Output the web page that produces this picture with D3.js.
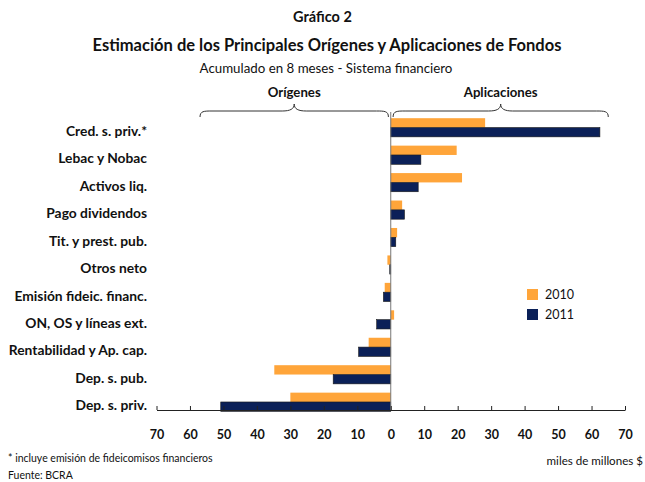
<!DOCTYPE html>
<html>
<head>
<meta charset="utf-8">
<script src="https://cdn.jsdelivr.net/npm/d3@7"></script>
<style>
  body { margin: 0; background: #fff; }
  svg text { font-family: Lato, "Open Sans", sans-serif; fill: #111; }
</style>
</head>
<body>
<svg id="mainsvg" width="645" height="482"></svg>
<script>
// data (miles de millones $)
const categories = ['Cred. s. priv.*', 'Lebac y Nobac', 'Activos liq.', 'Pago dividendos',
    'Tit. y prest. pub.', 'Otros neto', 'Emisión fideic. financ.', 'ON, OS y líneas ext.',
    'Rentabilidad y Ap. cap.', 'Dep. s. pub.', 'Dep. s. priv.'];
const series = ['2010', '2011'];
const values2010 = [28.2, 19.7, 21.3, 3.4, 1.9, -1.0, -1.8, 1.0, -6.6, -34.8, -30.0];
const values2011 = [62.5, 9.0, 8.2, 4.1, 1.5, -0.3, -2.2, -4.2, -9.6, -17.2, -50.8];
const xTicks = [-70, -60, -50, -40, -30, -20, -10, 0, 10, 20, 30, 40, 50, 60, 70];

const color = { '2010': '#ffa53a', '2011': '#0b2058' };

const svg = d3.select('#mainsvg');
const width = +svg.attr('width');

const xScale = d3.scaleLinear().domain([-70, 70]).range([156.5, 625]);
const yScale = d3.scaleBand().domain(categories)
    .range([113.8, 415.7]).paddingInner(0.32).paddingOuter(0.16);
const subScale = d3.scaleBand().domain(series).range([0, yScale.bandwidth()]);

const data = categories.map((c, i) => ({ cat: c, '2010': values2010[i], '2011': values2011[i] }));

// titles
svg.append('text').attr('x', width / 2).attr('y', 22).attr('text-anchor', 'middle')
    .attr('font-size', 14.5).attr('font-weight', 'bold').text('Gráfico 2');
svg.append('text').attr('x', 327).attr('y', 51).attr('text-anchor', 'middle')
    .attr('font-size', 16.5).attr('font-weight', 'bold')
    .text('Estimación de los Principales Orígenes y Aplicaciones de Fondos');
svg.append('text').attr('x', 326).attr('y', 73).attr('text-anchor', 'middle')
    .attr('font-size', 13.3).text('Acumulado en 8 meses - Sistema financiero');

// braces
const brace = (x0, x1, yb) => {
    const xm = (x0 + x1) / 2;
    return `M${x0},${yb + 6} C${x0},${yb} ${x0 + 4},${yb} ${x0 + 12},${yb}` +
        ` L${xm - 12},${yb} C${xm - 4},${yb} ${xm},${yb - 2} ${xm},${yb - 7}` +
        ` C${xm},${yb - 2} ${xm + 4},${yb} ${xm + 12},${yb}` +
        ` L${x1 - 12},${yb} C${x1 - 4},${yb} ${x1},${yb} ${x1},${yb + 6}`;
};
const braces = [
    { label: 'Orígenes', x0: xScale(-57), x1: xScale(-0.7) },
    { label: 'Aplicaciones', x0: xScale(0.7), x1: xScale(65) }
];
braces.forEach(b => {
    svg.append('path').attr('d', brace(b.x0, b.x1, 111))
        .attr('fill', 'none').attr('stroke', '#333').attr('stroke-width', 1);
    svg.append('text').attr('x', (b.x0 + b.x1) / 2).attr('y', 97).attr('text-anchor', 'middle')
        .attr('font-size', 13.2).attr('font-weight', 'bold').text(b.label);
});

// bars
const groups = svg.selectAll('.cat').data(data).enter().append('g')
    .attr('class', 'cat')
    .attr('transform', d => `translate(0, ${yScale(d.cat)})`);
groups.selectAll('rect').data(d => series.map(s => ({ s: s, v: d[s] }))).enter().append('rect')
    .attr('x', d => xScale(Math.min(0, d.v)))
    .attr('y', d => subScale(d.s))
    .attr('width', d => Math.abs(xScale(d.v) - xScale(0)))
    .attr('height', subScale.bandwidth())
    .attr('fill', d => color[d.s])
    .attr('stroke', d => d.s === '2011' ? '#1a1a1a' : 'none')
    .attr('stroke-width', 0.6);

// category labels
svg.selectAll('.catlabel').data(categories).enter().append('text')
    .attr('class', 'catlabel')
    .attr('x', 147).attr('y', d => yScale(d) + yScale.bandwidth() / 2 + 3.5)
    .attr('dy', '0.35em').attr('text-anchor', 'end')
    .attr('font-size', 13.8).attr('font-weight', 'bold').text(d => d);

// zero line
svg.append('line').attr('x1', xScale(0)).attr('x2', xScale(0))
    .attr('y1', 112).attr('y2', 410).attr('stroke', '#777').attr('stroke-width', 1);

// x axis
const xAxis = d3.axisBottom(xScale).tickValues(xTicks)
    .tickFormat(d => Math.abs(d)).tickSizeInner(-4).tickSizeOuter(0).tickPadding(20);
const xAxisGroup = svg.append('g').attr('transform', 'translate(0, 410)').call(xAxis);
xAxisGroup.selectAll('path, line').attr('stroke', '#222');
xAxisGroup.selectAll('text').attr('font-size', 12.5).attr('font-weight', 'bold')
    .attr('font-family', 'Lato, sans-serif').attr('fill', '#111');

// legend
series.forEach((s, i) => {
    svg.append('rect').attr('x', 527).attr('y', 289 + i * 20).attr('width', 11).attr('height', 11)
        .attr('fill', color[s]);
    svg.append('text').attr('x', 545).attr('y', 299 + i * 20).attr('font-size', 12.5).text(s);
});

// notes
svg.append('text').attr('x', 8).attr('y', 462).attr('font-size', 10.5)
    .text('* incluye emisión de fideicomisos financieros');
svg.append('text').attr('x', 8).attr('y', 479).attr('font-size', 10.5).text('Fuente: BCRA');
svg.append('text').attr('x', 643).attr('y', 465).attr('text-anchor', 'end').attr('font-size', 11.6)
    .text('miles de millones $');
</script>
</body>
</html>
